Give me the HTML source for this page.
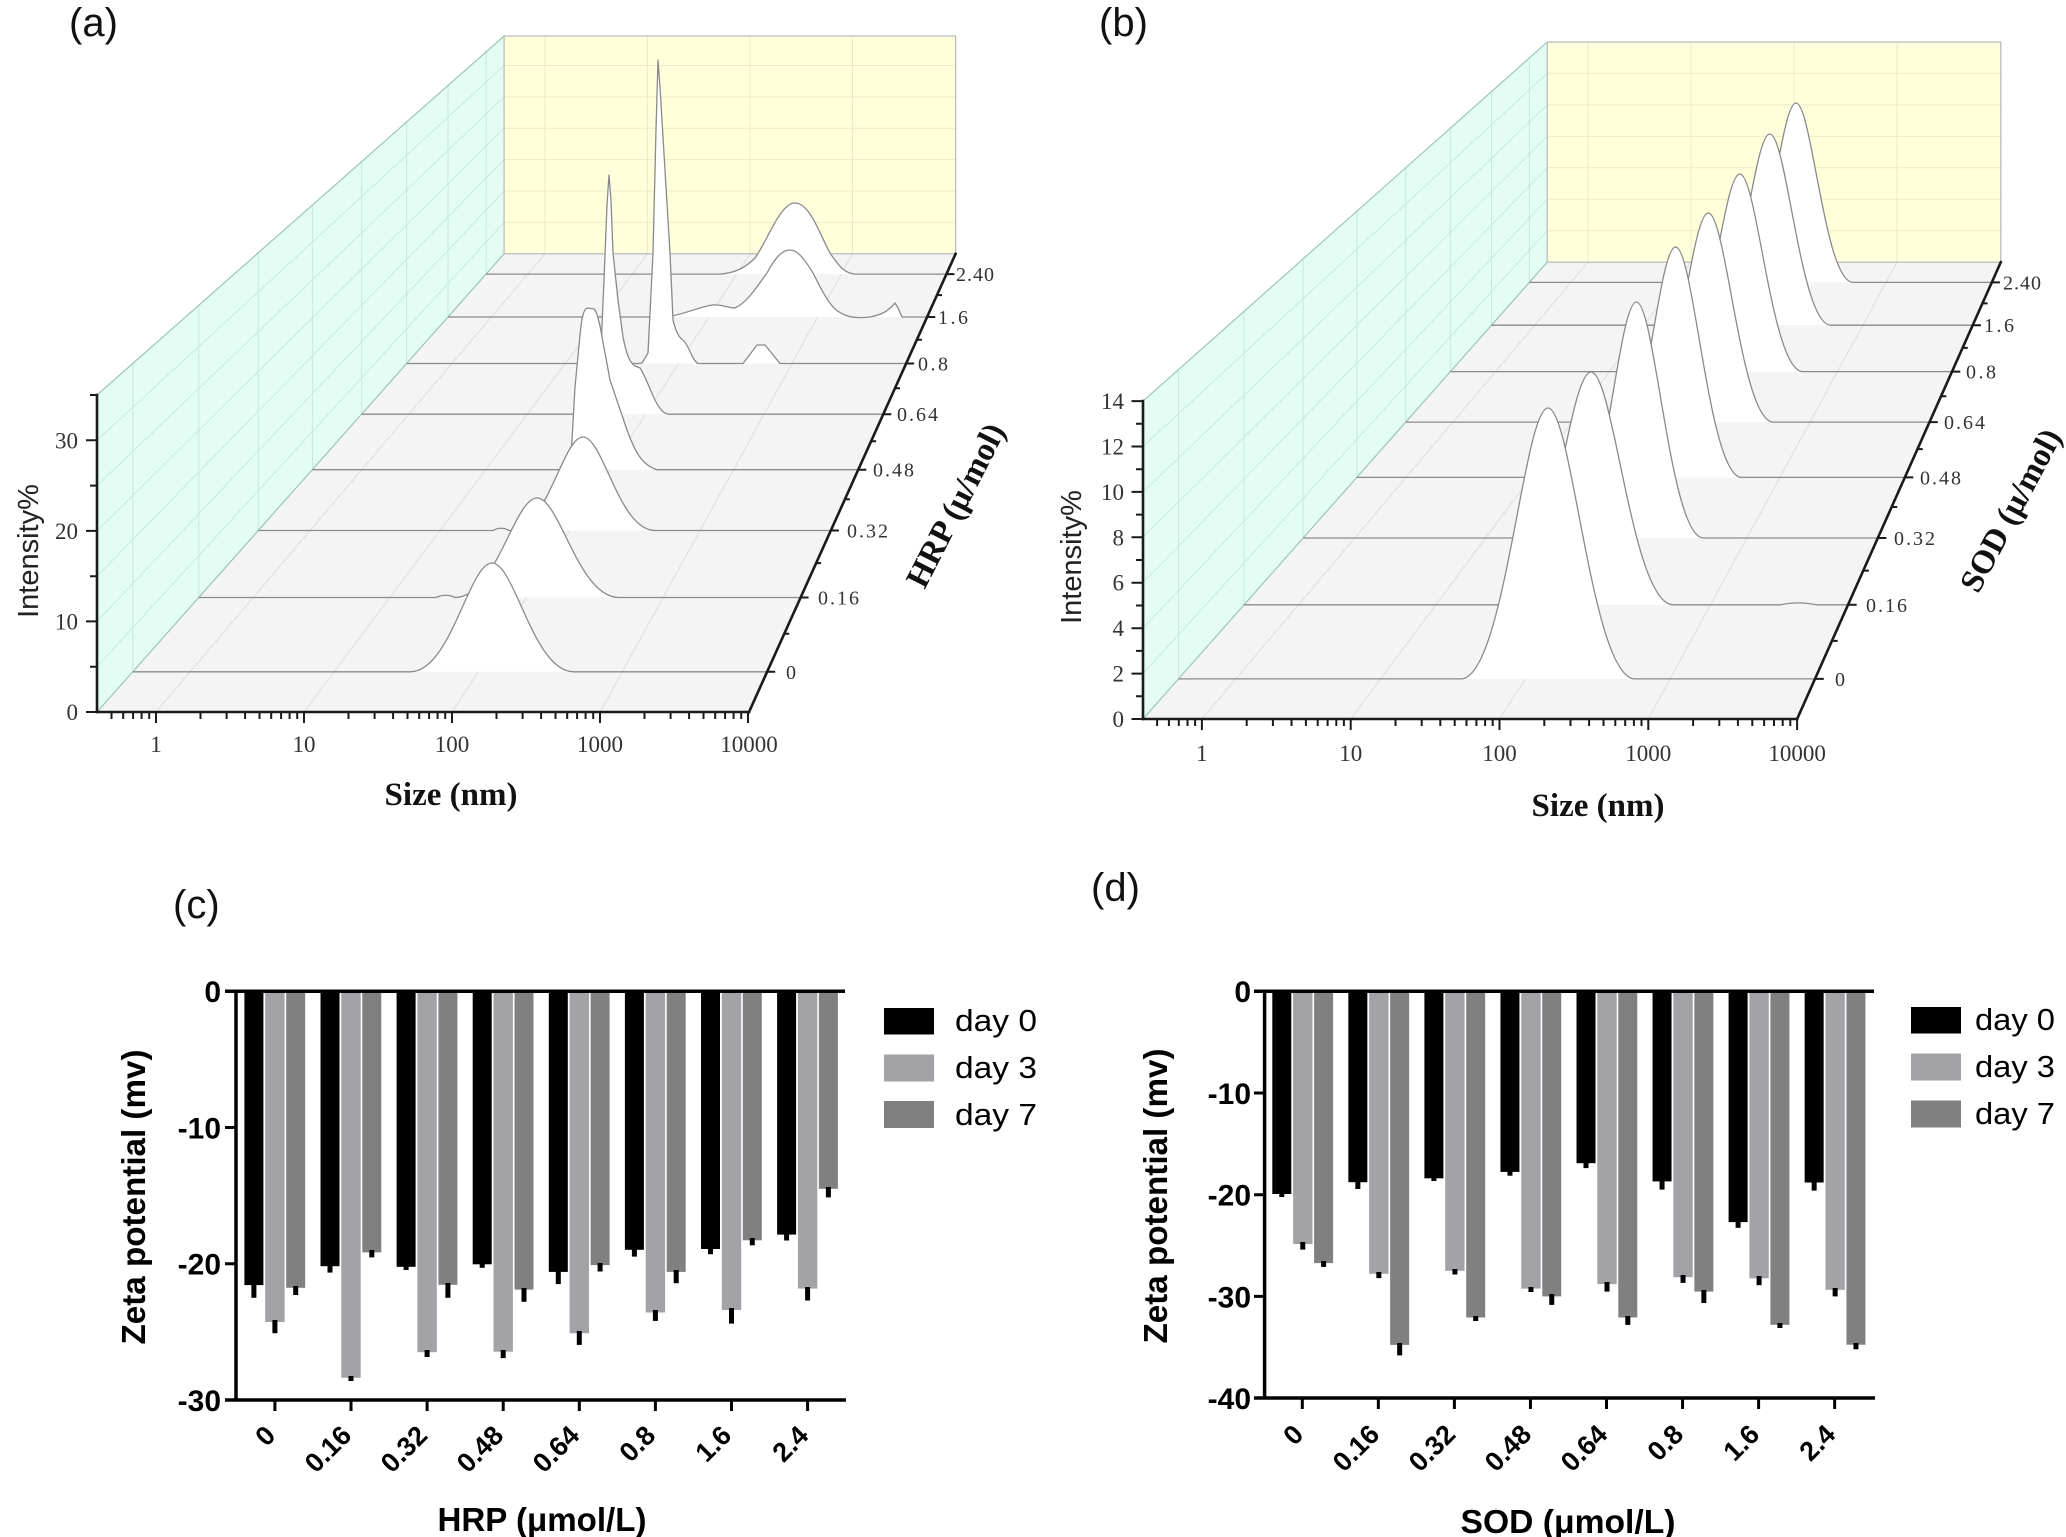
<!DOCTYPE html>
<html>
<head>
<meta charset="utf-8">
<style>
html,body{margin:0;padding:0;background:#fff;}
svg{display:block;}
</style>
</head>
<body>
<svg width="2066" height="1537" viewBox="0 0 2066 1537" xmlns="http://www.w3.org/2000/svg">
<rect x="0" y="0" width="2066" height="1537" fill="#ffffff"/>

<!-- ================= PANEL (a) ================= -->
<text x="69" y="36" font-family="'Liberation Sans', Arial, sans-serif" font-size="40" fill="#111">(a)</text>

<polygon points="97,712 749,712 955.6,253.8 504.1,253.8" fill="#f4f4f4"/>
<polygon points="97,712 97,395 504.1,36 504.1,253.8" fill="#e3fcf4"/>
<rect x="504.1" y="36" width="451.5" height="217.8" fill="#ffffdc"/>

<g stroke="#dedede" stroke-width="1" fill="none">
  <path d="M156,712L545,253.8M304,712L647.5,253.8M452,712L750,253.8M600,712L852.5,253.8"/>
</g>
<g stroke="#ecebc8" stroke-width="1" fill="none">
  <path d="M545,36V253.8M647.5,36V253.8M750,36V253.8M852.5,36V253.8"/>
  <path d="M504.1,222.4H955.6M504.1,191H955.6M504.1,159.6H955.6M504.1,128.3H955.6M504.1,96.9H955.6M504.1,65.5H955.6"/>
</g>
<g stroke="#c9e9df" stroke-width="1" fill="none">
  <path d="M97,666.7L504.1,222.4M97,621.4L504.1,191M97,576.2L504.1,159.6M97,530.9L504.1,128.3M97,485.6L504.1,96.9M97,440.3L504.1,65.5"/>
  <path d="M132.8,671.8V363.3M198.8,597.5V304.9M258.3,530.5V252.1M312.4,469.7V204.2M361.6,414.2V160.6M406.6,363.5V120.7M448,317V84M486.1,274.1V50.2"/>
</g>
<rect x="504.1" y="36" width="451.5" height="217.8" fill="none" stroke="#b8b8b8" stroke-width="1.2"/>
<path d="M97,395L504.1,36M97,712L504.1,253.8" stroke="#9cc6ba" stroke-width="1.2" fill="none"/>

<!-- rows (a), back to front -->
<g stroke="#8a8a8a" stroke-width="1.3" fill="#ffffff" stroke-linejoin="round">
  <!-- r7 2.40 -->
  <path stroke="none" d="M720,274.1 C735,273 745,268 755,258 C768,240 780,203 795,203 C810,203 820,235 830,253 C840,268 846,274.1 856,274.1 Z"/>
  <path fill="none" d="M486.1,274.1 L720,274.1 C735,273 745,268 755,258 C768,240 780,203 795,203 C810,203 820,235 830,253 C840,268 846,274.1 856,274.1 L946.5,274.1"/>
  <!-- r6 1.6 -->
  <path stroke="none" d="M664,317 L672,316 C690,312 700,307 712,305 C722,304 727,308 735,308 C748,302 758,285 767,273 C775,258 782,250 790,250 C798,250 805,260 813,273 C823,292 830,310 845,315 C852,318 862,318 870,317 C880,315 888,312 895,303 L898,308 L902,317 Z"/>
  <path fill="none" d="M448,317 L664,317 L672,316 C690,312 700,307 712,305 C722,304 727,308 735,308 C748,302 758,285 767,273 C775,258 782,250 790,250 C798,250 805,260 813,273 C823,292 830,310 845,315 C852,318 862,318 870,317 C880,315 888,312 895,303 L898,308 L902,317 L927.2,317"/>
  <!-- r5 0.8 -->
  <path stroke="none" d="M638,363.5 L642,363 L648,353 L653,253 L656,130 L658,60 L660,87 L665,170 L670,253 L673,320 C676,332 679,338 684,341 C690,348 692,360 698,363.5 Z M743,363.5 L757,345 L765,345 L780,363.5 Z"/>
  <path fill="none" d="M406.6,363.5 L638,363.5 L642,363 L648,353 L653,253 L656,130 L658,60 L660,87 L665,170 L670,253 L673,320 C676,332 679,338 684,341 C690,348 692,360 698,363.5 L743,363.5 L757,345 L765,345 L780,363.5 L906.2,363.5"/>
  <!-- r4 0.64 -->
  <path stroke="none" d="M590,414.2 C596,412 598,395 600,370 L604,280 L607,205 L609,175 L611,200 L613,253 L618,300 L623,337 C626,352 629,362 635,366 L640,368 C645,375 650,390 655,400 C660,410 664,414.2 670,414.2 Z"/>
  <path fill="none" d="M361.6,414.2 L590,414.2 C596,412 598,395 600,370 L604,280 L607,205 L609,175 L611,200 L613,253 L618,300 L623,337 C626,352 629,362 635,366 L640,368 C645,375 650,390 655,400 C660,410 664,414.2 670,414.2 L883.3,414.2"/>
  <!-- r3 0.48 -->
  <path stroke="none" d="M563,469.7 C569,469 571,458 572,440 L575,387 L580,335 C582,315 584,308 588,308 L594,309 C597,312 598,318 600,326 L610,380 L627,430 C635,452 642,465 657,469.7 Z"/>
  <path fill="none" d="M312.4,469.7 L563,469.7 C569,469 571,458 572,440 L575,387 L580,335 C582,315 584,308 588,308 L594,309 C597,312 598,318 600,326 L610,380 L627,430 C635,452 642,465 657,469.7 L858.3,469.7"/>
  <!-- r2 0.32 -->
  <path stroke="none" d="M511,530.5 C547,530.5 562.8,437 583,437 C603.2,437 619,530.5 655,530.5 Z"/>
  <path fill="none" d="M258.3,530.5 L493,530.5 Q501,526 509,530.5 L511,530.5 C547,530.5 562.8,437 583,437 C603.2,437 619,530.5 655,530.5 L830.9,530.5"/>
  <!-- r1 0.16 -->
  <path stroke="none" d="M455,597.5 C496,597.5 514,498 537,498 C560,498 578,597.5 619,597.5 Z"/>
  <path fill="none" d="M198.8,597.5 L436,597.5 Q446,593 455,597.5 C496,597.5 514,498 537,498 C560,498 578,597.5 619,597.5 L800.6,597.5"/>
  <!-- r0 0 -->
  <path stroke="none" d="M410,671.8 C451,671.8 469,563 492,563 C515,563 533,671.8 574,671.8 Z"/>
  <path fill="none" d="M132.8,671.8 L410,671.8 C451,671.8 469,563 492,563 C515,563 533,671.8 574,671.8 L767.2,671.8"/>
</g>

<!-- axes (a) -->
<g stroke="#1a1a1a" stroke-width="2.6" fill="none" stroke-linecap="square">
  <path d="M97,712H749"/>
  <path d="M97,712V395"/>
  <path d="M749,712L955.6,253.8"/>
</g>
<g stroke="#1a1a1a" stroke-width="2" fill="none">
  <path d="M156,712v11M304,712v11M452,712v11M600,712v11M748,712v11"/>
  <path d="M111.5,712v7M123.2,712v7M133.1,712v7M141.6,712v7M149.2,712v7M200.5,712v7M226.6,712v7M245.1,712v7M259.5,712v7M271.2,712v7M281.1,712v7M289.6,712v7M297.2,712v7M348.5,712v7M374.6,712v7M393.1,712v7M407.5,712v7M419.2,712v7M429.1,712v7M437.6,712v7M445.2,712v7M496.5,712v7M522.6,712v7M541.1,712v7M555.5,712v7M567.2,712v7M577.1,712v7M585.6,712v7M593.2,712v7M644.5,712v7M670.6,712v7M689.1,712v7M703.5,712v7M715.2,712v7M725.1,712v7M733.6,712v7M741.2,712v7"/>
  <path d="M97,712h-11M97,621.4h-11M97,530.9h-11M97,440.3h-11M97,666.7h-7M97,576.2h-7M97,485.6h-7M97,395h-7"/>
  <path d="M767.2,671.8h8M800.6,597.5h8M830.9,530.5h8M858.3,469.7h8M883.3,414.2h8M906.2,363.5h8M927.2,317h8M946.5,274.1h8"/>
  <path d="M784.3,633.7h5M816.1,563.1h5M844.9,499.3h5M871.1,441.3h5M895,388.3h5M916.9,339.8h5M937,295.1h5"/>
</g>

<g font-family="'Liberation Serif', serif" font-size="23" fill="#333" text-anchor="end">
  <text x="78" y="720">0</text>
  <text x="78" y="629.4">10</text>
  <text x="78" y="538.9">20</text>
  <text x="78" y="448.3">30</text>
</g>
<g font-family="'Liberation Serif', serif" font-size="23" fill="#333" text-anchor="middle">
  <text x="156" y="752">1</text>
  <text x="304" y="752">10</text>
  <text x="452" y="752">100</text>
  <text x="600" y="752">1000</text>
  <text x="749" y="752">10000</text>
</g>
<g font-family="'Liberation Serif', serif" font-size="20" fill="#333">
  <text x="786" y="678.8">0</text>
  <text x="818" y="604.5" textLength="41" lengthAdjust="spacing">0.16</text>
  <text x="847" y="537.5" textLength="41" lengthAdjust="spacing">0.32</text>
  <text x="873" y="476.7" textLength="41" lengthAdjust="spacing">0.48</text>
  <text x="897" y="421.2" textLength="41" lengthAdjust="spacing">0.64</text>
  <text x="918" y="370.5" textLength="30" lengthAdjust="spacing">0.8</text>
  <text x="938" y="324" textLength="30" lengthAdjust="spacing">1.6</text>
  <text x="956" y="281.1" textLength="38" lengthAdjust="spacing">2.40</text>
</g>
<text x="451" y="805" text-anchor="middle" font-family="'Liberation Serif', serif" font-weight="bold" font-size="33" fill="#111">Size (nm)</text>
<text transform="translate(38,551) rotate(-90)" text-anchor="middle" font-family="'Liberation Sans', Arial, sans-serif" font-size="29" fill="#222">Intensity%</text>
<text transform="translate(955,505) rotate(-63)" text-anchor="middle" dy="0.35em" font-family="'Liberation Serif', serif" font-weight="bold" font-size="33" fill="#111">HRP (μ/mol)</text>

<!-- ================= PANEL (b) ================= -->
<text x="1099" y="36" font-family="'Liberation Sans', Arial, sans-serif" font-size="40" fill="#111">(b)</text>

<polygon points="1143,719 1797.1,719 2000.8,262.2 1547.2,262.2" fill="#f4f4f4"/>
<polygon points="1143,719 1143,401.1 1547.2,42.1 1547.2,262.2" fill="#e3fcf4"/>
<rect x="1547.2" y="42.1" width="453.6" height="220.1" fill="#ffffdc"/>

<g stroke="#dedede" stroke-width="1" fill="none">
  <path d="M1201.9,719L1588,262.2M1350.7,719L1691,262.2M1499.5,719L1794,262.2M1648.3,719L1897,262.2"/>
</g>
<g stroke="#ecebc8" stroke-width="1" fill="none">
  <path d="M1588,42.1V262.2M1691,42.1V262.2M1794,42.1V262.2M1897,42.1V262.2"/>
  <path d="M1547.2,230.7H2000.8M1547.2,199.3H2000.8M1547.2,167.8H2000.8M1547.2,136.4H2000.8M1547.2,104.9H2000.8M1547.2,73.4H2000.8"/>
</g>
<g stroke="#c9e9df" stroke-width="1" fill="none">
  <path d="M1143,673.6L1547.2,230.7M1143,628.2L1547.2,199.3M1143,582.7L1547.2,167.8M1143,537.3L1547.2,136.4M1143,491.9L1547.2,104.9M1143,446.5L1547.2,73.4"/>
  <path d="M1178.5,678.9V369.6M1244,604.8V311.4M1303.2,538V258.8M1356.8,477.4V211.2M1405.7,422.1V167.8M1450.4,371.6V128M1491.5,325.2V91.5M1529.4,282.4V57.9"/>
</g>
<rect x="1547.2" y="42.1" width="453.6" height="220.1" fill="none" stroke="#b8b8b8" stroke-width="1.2"/>
<path d="M1143,401.1L1547.2,42.1M1143,719L1547.2,262.2" stroke="#9cc6ba" stroke-width="1.2" fill="none"/>

<g stroke="#8a8a8a" stroke-width="1.3" fill="#ffffff" stroke-linejoin="round">
  <!-- r7 -->
  <path stroke="none" d="M1739,282.4 C1767.5,282.4 1780,103 1796,103 C1812,103 1824.5,282.4 1853,282.4 Z"/>
  <path fill="none" d="M1529.4,282.4 L1739,282.4 C1767.5,282.4 1780,103 1796,103 C1812,103 1824.5,282.4 1853,282.4 L1991.9,282.4"/>
  <!-- r6 -->
  <path stroke="none" d="M1708.8,325.2 C1739.3,325.2 1752.7,134 1769.8,134 C1786.9,134 1800.3,325.2 1830.8,325.2 Z"/>
  <path fill="none" d="M1491.5,325.2 L1708.8,325.2 C1739.3,325.2 1752.7,134 1769.8,134 C1786.9,134 1800.3,325.2 1830.8,325.2 L1972.9,325.2"/>
  <!-- r5 -->
  <path stroke="none" d="M1676.8,371.6 C1708.3,371.6 1722.2,174 1739.8,174 C1757.4,174 1771.3,371.6 1802.8,371.6 Z"/>
  <path fill="none" d="M1450.4,371.6 L1676.8,371.6 C1708.3,371.6 1722.2,174 1739.8,174 C1757.4,174 1771.3,371.6 1802.8,371.6 L1952.3,371.6"/>
  <!-- r4 -->
  <path stroke="none" d="M1643.3,422.1 C1675.8,422.1 1690.1,213 1708.3,213 C1726.5,213 1740.8,422.1 1773.3,422.1 Z"/>
  <path fill="none" d="M1405.7,422.1 L1643.3,422.1 C1675.8,422.1 1690.1,213 1708.3,213 C1726.5,213 1740.8,422.1 1773.3,422.1 L1929.8,422.1"/>
  <!-- r3 -->
  <path stroke="none" d="M1609.6,477.4 C1642.6,477.4 1657.1,247 1675.6,247 C1694.1,247 1708.6,477.4 1741.6,477.4 Z"/>
  <path fill="none" d="M1356.8,477.4 L1609.6,477.4 C1642.6,477.4 1657.1,247 1675.6,247 C1694.1,247 1708.6,477.4 1741.6,477.4 L1905.3,477.4"/>
  <!-- r2 -->
  <path stroke="none" d="M1569.4,538 C1602.9,538 1617.6,302 1636.4,302 C1655.2,302 1669.9,538 1703.4,538 Z"/>
  <path fill="none" d="M1303.2,538 L1569.4,538 C1602.9,538 1617.6,302 1636.4,302 C1655.2,302 1669.9,538 1703.4,538 L1878.4,538"/>
  <!-- r1 -->
  <path stroke="none" d="M1509,604.8 C1550,604.8 1568,372 1591,372 C1614,372 1632,604.8 1673,604.8 Z"/>
  <path fill="none" d="M1244,604.8 L1509,604.8 C1550,604.8 1568,372 1591,372 C1614,372 1632,604.8 1673,604.8 L1781,604.8 Q1798,601 1816,604.8 L1848.7,604.8"/>
  <!-- r0 -->
  <path stroke="none" d="M1461,678.9 C1504.5,678.9 1523.6,408 1548,408 C1572.4,408 1591.5,678.9 1635,678.9 Z"/>
  <path fill="none" d="M1178.5,678.9 L1461,678.9 C1504.5,678.9 1523.6,408 1548,408 C1572.4,408 1591.5,678.9 1635,678.9 L1815.8,678.9"/>
</g>

<g stroke="#1a1a1a" stroke-width="2.6" fill="none" stroke-linecap="square">
  <path d="M1143,719H1797.1"/>
  <path d="M1143,719V401.1"/>
  <path d="M1797.1,719L2000.8,262.2"/>
</g>
<g stroke="#1a1a1a" stroke-width="2" fill="none">
  <path d="M1201.9,719v11M1350.7,719v11M1499.5,719v11M1648.3,719v11M1797.1,719v11"/>
  <path d="M1157.1,719v7M1168.9,719v7M1178.8,719v7M1187.5,719v7M1195.1,719v7M1246.7,719v7M1272.9,719v7M1291.5,719v7M1305.9,719v7M1317.7,719v7M1327.6,719v7M1336.3,719v7M1343.9,719v7M1395.5,719v7M1421.7,719v7M1440.3,719v7M1454.7,719v7M1466.5,719v7M1476.4,719v7M1485.1,719v7M1492.7,719v7M1544.3,719v7M1570.5,719v7M1589.1,719v7M1603.5,719v7M1615.3,719v7M1625.2,719v7M1633.9,719v7M1641.5,719v7M1693.1,719v7M1719.3,719v7M1737.9,719v7M1752.3,719v7M1764.1,719v7M1774,719v7M1782.7,719v7M1790.3,719v7"/>
  <path d="M1143,719h-11.5M1143,673.6h-11.5M1143,628.2h-11.5M1143,582.7h-11.5M1143,537.3h-11.5M1143,491.9h-11.5M1143,446.5h-11.5M1143,401.1h-11.5"/>
  <path d="M1143,696.3h-7M1143,650.9h-7M1143,605.5h-7M1143,560h-7M1143,514.6h-7M1143,469.2h-7M1143,423.8h-7"/>
  <path d="M1815.8,678.9h8M1848.7,604.8h8M1878.4,538h8M1905.3,477.4h8M1929.8,422.1h8M1952.3,371.6h8M1972.9,325.2h8M1991.9,282.4h8"/>
  <path d="M1832.7,640.9h5M1863.9,570.6h5M1892.2,507h5M1917.8,449.1h5M1941.3,396.3h5M1962.8,347.9h5M1982.6,303.4h5"/>
</g>

<g font-family="'Liberation Serif', serif" font-size="23" fill="#333" text-anchor="end">
  <text x="1124" y="727">0</text>
  <text x="1124" y="681.6">2</text>
  <text x="1124" y="636.2">4</text>
  <text x="1124" y="590.7">6</text>
  <text x="1124" y="545.3">8</text>
  <text x="1124" y="499.9">10</text>
  <text x="1124" y="454.5">12</text>
  <text x="1124" y="409.1">14</text>
</g>
<g font-family="'Liberation Serif', serif" font-size="23" fill="#333" text-anchor="middle">
  <text x="1201.9" y="761">1</text>
  <text x="1350.7" y="761">10</text>
  <text x="1499.5" y="761">100</text>
  <text x="1648.3" y="761">1000</text>
  <text x="1797.1" y="761">10000</text>
</g>
<g font-family="'Liberation Serif', serif" font-size="20" fill="#333">
  <text x="1835" y="685.9">0</text>
  <text x="1866" y="611.8" textLength="41" lengthAdjust="spacing">0.16</text>
  <text x="1894" y="545" textLength="41" lengthAdjust="spacing">0.32</text>
  <text x="1920" y="484.4" textLength="41" lengthAdjust="spacing">0.48</text>
  <text x="1944" y="429.1" textLength="41" lengthAdjust="spacing">0.64</text>
  <text x="1966" y="378.6" textLength="30" lengthAdjust="spacing">0.8</text>
  <text x="1984" y="332.2" textLength="30" lengthAdjust="spacing">1.6</text>
  <text x="2003" y="289.4" textLength="38" lengthAdjust="spacing">2.40</text>
</g>
<text x="1598" y="816" text-anchor="middle" font-family="'Liberation Serif', serif" font-weight="bold" font-size="33" fill="#111">Size (nm)</text>
<text transform="translate(1081,557) rotate(-90)" text-anchor="middle" font-family="'Liberation Sans', Arial, sans-serif" font-size="29" fill="#222">Intensity%</text>
<text transform="translate(2010,510) rotate(-62)" text-anchor="middle" dy="0.35em" font-family="'Liberation Serif', serif" font-weight="bold" font-size="33" fill="#111">SOD (μ/mol)</text>

<!-- ================= PANEL (c) ================= -->
<text x="173" y="918" font-family="'Liberation Sans', Arial, sans-serif" font-size="40" fill="#111">(c)</text>

<g>
  <!-- G0 -->
  <rect x="244.4" y="993" width="19" height="292.1" fill="#000"/>
  <rect x="265.2" y="993" width="19.4" height="329" fill="#a3a3a7"/>
  <rect x="286.2" y="993" width="19" height="294.8" fill="#808080"/>
  <!-- G1 -->
  <rect x="320.5" y="993" width="19" height="273.2" fill="#000"/>
  <rect x="341.3" y="993" width="19.4" height="384.8" fill="#a3a3a7"/>
  <rect x="362.3" y="993" width="19" height="259.4" fill="#808080"/>
  <!-- G2 -->
  <rect x="396.6" y="993" width="19" height="273.8" fill="#000"/>
  <rect x="417.4" y="993" width="19.4" height="359.2" fill="#a3a3a7"/>
  <rect x="438.4" y="993" width="19" height="291.8" fill="#808080"/>
  <!-- G3 -->
  <rect x="472.7" y="993" width="19" height="271.3" fill="#000"/>
  <rect x="493.5" y="993" width="19.4" height="358.7" fill="#a3a3a7"/>
  <rect x="514.5" y="993" width="19" height="296.6" fill="#808080"/>
  <!-- G4 -->
  <rect x="548.8" y="993" width="19" height="278.9" fill="#000"/>
  <rect x="569.6" y="993" width="19.4" height="340.2" fill="#a3a3a7"/>
  <rect x="590.6" y="993" width="19" height="272.1" fill="#808080"/>
  <!-- G5 -->
  <rect x="624.9" y="993" width="19" height="256.8" fill="#000"/>
  <rect x="645.7" y="993" width="19.4" height="319.5" fill="#a3a3a7"/>
  <rect x="666.7" y="993" width="19" height="278.9" fill="#808080"/>
  <!-- G6 -->
  <rect x="701" y="993" width="19" height="256" fill="#000"/>
  <rect x="721.8" y="993" width="19.4" height="317" fill="#a3a3a7"/>
  <rect x="742.8" y="993" width="19" height="247.3" fill="#808080"/>
  <!-- G7 -->
  <rect x="777.1" y="993" width="19" height="241.6" fill="#000"/>
  <rect x="797.9" y="993" width="19.4" height="295.6" fill="#a3a3a7"/>
  <rect x="818.9" y="993" width="19" height="195.8" fill="#808080"/>
</g>
<g fill="#000">
  <rect x="251.4" y="1283" width="5" height="14.8"/><rect x="272.4" y="1320" width="5" height="13.2"/><rect x="293.2" y="1286" width="5" height="9"/>
  <rect x="327.5" y="1264" width="5" height="8.6"/><rect x="348.5" y="1376" width="5" height="5"/><rect x="369.3" y="1250" width="5" height="7.4"/>
  <rect x="403.6" y="1265" width="5" height="5"/><rect x="424.6" y="1350" width="5" height="7"/><rect x="445.4" y="1283" width="5" height="14.8"/>
  <rect x="479.7" y="1262" width="5" height="5.8"/><rect x="500.7" y="1350" width="5" height="8.1"/><rect x="521.5" y="1288" width="5" height="13.8"/>
  <rect x="555.8" y="1270" width="5" height="14.1"/><rect x="576.8" y="1331" width="5" height="13.9"/><rect x="597.6" y="1263" width="5" height="8.5"/>
  <rect x="631.9" y="1248" width="5" height="8.6"/><rect x="652.9" y="1310" width="5" height="10.9"/><rect x="673.7" y="1270" width="5" height="13.2"/>
  <rect x="708" y="1247" width="5" height="7.2"/><rect x="729" y="1308" width="5" height="15.6"/><rect x="749.8" y="1238" width="5" height="7.3"/>
  <rect x="784.1" y="1233" width="5" height="7.5"/><rect x="805.1" y="1287" width="5" height="13.5"/><rect x="825.9" y="1187" width="5" height="10.4"/>
</g>
<g stroke="#000" fill="none">
  <path d="M225,991.3H845" stroke-width="3.5"/>
  <path d="M236,991.3V1400" stroke-width="3.5"/>
  <path d="M225,1400H846" stroke-width="3.5"/>
  <path d="M225,1127.5H236M225,1263.7H236" stroke-width="3"/>
  <path d="M274.9,1400v11M351,1400v11M427.1,1400v11M503.2,1400v11M579.3,1400v11M655.4,1400v11M731.5,1400v11M807.6,1400v11" stroke-width="3"/>
</g>
<g font-family="'Liberation Sans', Arial, sans-serif" font-weight="bold" font-size="30" fill="#000" text-anchor="end">
  <text x="221" y="1002">0</text>
  <text x="221" y="1138.5">-10</text>
  <text x="221" y="1274.7">-20</text>
  <text x="221" y="1411">-30</text>
</g>
<g font-family="'Liberation Sans', Arial, sans-serif" font-weight="bold" font-size="27" fill="#000" text-anchor="end">
  <text transform="translate(277,1437) rotate(-45)">0</text>
  <text transform="translate(353,1437) rotate(-45)">0.16</text>
  <text transform="translate(429,1437) rotate(-45)">0.32</text>
  <text transform="translate(505,1437) rotate(-45)">0.48</text>
  <text transform="translate(581,1437) rotate(-45)">0.64</text>
  <text transform="translate(657,1437) rotate(-45)">0.8</text>
  <text transform="translate(733,1437) rotate(-45)">1.6</text>
  <text transform="translate(810,1437) rotate(-45)">2.4</text>
</g>
<text x="542" y="1531" text-anchor="middle" font-family="'Liberation Sans', Arial, sans-serif" font-weight="bold" font-size="33" fill="#000" textLength="209" lengthAdjust="spacingAndGlyphs">HRP (μmol/L)</text>
<text transform="translate(145,1197) rotate(-90)" text-anchor="middle" font-family="'Liberation Sans', Arial, sans-serif" font-weight="bold" font-size="33" fill="#000" textLength="295" lengthAdjust="spacingAndGlyphs">Zeta potential (mv)</text>
<rect x="884" y="1008" width="50" height="26.5" fill="#000"/>
<rect x="884" y="1054.5" width="50" height="27" fill="#a3a3a7"/>
<rect x="884" y="1101" width="50" height="27" fill="#808080"/>
<g font-family="'Liberation Sans', Arial, sans-serif" font-size="31" fill="#000">
  <text x="955" y="1031" textLength="82" lengthAdjust="spacingAndGlyphs">day 0</text>
  <text x="955" y="1078" textLength="82" lengthAdjust="spacingAndGlyphs">day 3</text>
  <text x="955" y="1125" textLength="82" lengthAdjust="spacingAndGlyphs">day 7</text>
</g>

<!-- ================= PANEL (d) ================= -->
<text x="1091" y="901" font-family="'Liberation Sans', Arial, sans-serif" font-size="40" fill="#111">(d)</text>

<g>
  <rect x="1272.3" y="993" width="19" height="201" fill="#000"/>
  <rect x="1293.1" y="993" width="19.4" height="251.1" fill="#a3a3a7"/>
  <rect x="1314.1" y="993" width="19" height="270.1" fill="#808080"/>

  <rect x="1348.35" y="993" width="19" height="189.2" fill="#000"/>
  <rect x="1369.15" y="993" width="19.4" height="280.8" fill="#a3a3a7"/>
  <rect x="1390.15" y="993" width="19" height="351.9" fill="#808080"/>

  <rect x="1424.4" y="993" width="19" height="185.3" fill="#000"/>
  <rect x="1445.2" y="993" width="19.4" height="277.8" fill="#a3a3a7"/>
  <rect x="1466.2" y="993" width="19" height="324.5" fill="#808080"/>

  <rect x="1500.45" y="993" width="19" height="178.9" fill="#000"/>
  <rect x="1521.25" y="993" width="19.4" height="295.6" fill="#a3a3a7"/>
  <rect x="1542.25" y="993" width="19" height="303.4" fill="#808080"/>

  <rect x="1576.5" y="993" width="19" height="170.2" fill="#000"/>
  <rect x="1597.3" y="993" width="19.4" height="291.1" fill="#a3a3a7"/>
  <rect x="1618.3" y="993" width="19" height="324.5" fill="#808080"/>

  <rect x="1652.55" y="993" width="19" height="188.4" fill="#000"/>
  <rect x="1673.35" y="993" width="19.4" height="284.2" fill="#a3a3a7"/>
  <rect x="1694.35" y="993" width="19" height="298.6" fill="#808080"/>

  <rect x="1728.6" y="993" width="19" height="229.1" fill="#000"/>
  <rect x="1749.4" y="993" width="19.4" height="285.3" fill="#a3a3a7"/>
  <rect x="1770.4" y="993" width="19" height="331.8" fill="#808080"/>

  <rect x="1804.65" y="993" width="19" height="189.5" fill="#000"/>
  <rect x="1825.45" y="993" width="19.4" height="296.8" fill="#a3a3a7"/>
  <rect x="1846.45" y="993" width="19" height="351.7" fill="#808080"/>
</g>
<g fill="#000">
  <rect x="1279.3" y="1192" width="5" height="5"/><rect x="1300.3" y="1242" width="5" height="7.6"/><rect x="1321.1" y="1261" width="5" height="5.9"/>
  <rect x="1355.35" y="1180" width="5" height="9"/><rect x="1376.35" y="1272" width="5" height="6.1"/><rect x="1397.15" y="1343" width="5" height="12.4"/>
  <rect x="1431.4" y="1176" width="5" height="5"/><rect x="1452.4" y="1269" width="5" height="5.5"/><rect x="1473.2" y="1316" width="5" height="5"/>
  <rect x="1507.45" y="1170" width="5" height="5.7"/><rect x="1528.45" y="1287" width="5" height="5"/><rect x="1549.25" y="1294" width="5" height="10.9"/>
  <rect x="1583.5" y="1161" width="5" height="7.1"/><rect x="1604.5" y="1282" width="5" height="9.6"/><rect x="1625.3" y="1316" width="5" height="8.9"/>
  <rect x="1659.55" y="1179" width="5" height="10.6"/><rect x="1680.55" y="1275" width="5" height="7.9"/><rect x="1701.35" y="1290" width="5" height="13"/>
  <rect x="1735.6" y="1220" width="5" height="7.8"/><rect x="1756.6" y="1276" width="5" height="9.2"/><rect x="1777.4" y="1323" width="5" height="5"/>
  <rect x="1811.65" y="1181" width="5" height="9.6"/><rect x="1832.65" y="1288" width="5" height="8.4"/><rect x="1853.45" y="1343" width="5" height="6.3"/>
</g>
<g stroke="#000" fill="none">
  <path d="M1254,991.3H1874" stroke-width="3.5"/>
  <path d="M1264.6,991.3V1398" stroke-width="3.5"/>
  <path d="M1254,1398H1875" stroke-width="3.5"/>
  <path d="M1254,1093H1264.6M1254,1194.7H1264.6M1254,1296.4H1264.6" stroke-width="3"/>
  <path d="M1302.3,1398v11M1378.35,1398v11M1454.4,1398v11M1530.45,1398v11M1606.5,1398v11M1682.55,1398v11M1758.6,1398v11M1834.65,1398v11" stroke-width="3"/>
</g>
<g font-family="'Liberation Sans', Arial, sans-serif" font-weight="bold" font-size="30" fill="#000" text-anchor="end">
  <text x="1251" y="1002">0</text>
  <text x="1251" y="1104">-10</text>
  <text x="1251" y="1205.7">-20</text>
  <text x="1251" y="1307.4">-30</text>
  <text x="1251" y="1409">-40</text>
</g>
<g font-family="'Liberation Sans', Arial, sans-serif" font-weight="bold" font-size="27" fill="#000" text-anchor="end">
  <text transform="translate(1305,1436) rotate(-45)">0</text>
  <text transform="translate(1381,1436) rotate(-45)">0.16</text>
  <text transform="translate(1457,1436) rotate(-45)">0.32</text>
  <text transform="translate(1533,1436) rotate(-45)">0.48</text>
  <text transform="translate(1609,1436) rotate(-45)">0.64</text>
  <text transform="translate(1685,1436) rotate(-45)">0.8</text>
  <text transform="translate(1761,1436) rotate(-45)">1.6</text>
  <text transform="translate(1837,1436) rotate(-45)">2.4</text>
</g>
<text x="1568" y="1533" text-anchor="middle" font-family="'Liberation Sans', Arial, sans-serif" font-weight="bold" font-size="33" fill="#000" textLength="215" lengthAdjust="spacingAndGlyphs">SOD (μmol/L)</text>
<text transform="translate(1167,1196) rotate(-90)" text-anchor="middle" font-family="'Liberation Sans', Arial, sans-serif" font-weight="bold" font-size="33" fill="#000" textLength="295" lengthAdjust="spacingAndGlyphs">Zeta potential (mv)</text>
<rect x="1911" y="1007" width="50" height="26.5" fill="#000"/>
<rect x="1911" y="1053.5" width="50" height="27" fill="#a3a3a7"/>
<rect x="1911" y="1100.5" width="50" height="27" fill="#808080"/>
<g font-family="'Liberation Sans', Arial, sans-serif" font-size="31" fill="#000">
  <text x="1975" y="1030" textLength="80" lengthAdjust="spacingAndGlyphs">day 0</text>
  <text x="1975" y="1077" textLength="80" lengthAdjust="spacingAndGlyphs">day 3</text>
  <text x="1975" y="1124" textLength="80" lengthAdjust="spacingAndGlyphs">day 7</text>
</g>
</svg>
</body>
</html>
